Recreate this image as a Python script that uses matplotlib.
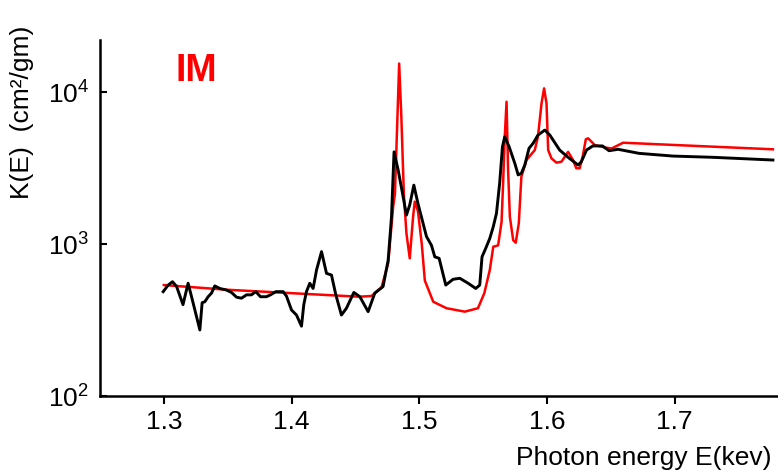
import matplotlib
matplotlib.use("Agg")
import matplotlib.pyplot as plt
from matplotlib import font_manager

# pick a narrow sans if available
names = {f.name for f in font_manager.fontManager.ttflist}
FONT = 'Liberation Sans Narrow' if 'Liberation Sans Narrow' in names else 'Liberation Sans'
plt.rcParams['font.family'] = [FONT, 'DejaVu Sans']
plt.rcParams['mathtext.fontset'] = 'custom'
plt.rcParams['mathtext.rm'] = FONT
plt.rcParams['mathtext.it'] = FONT
plt.rcParams['mathtext.default'] = 'regular'

# theory curve (red)
red_e = [1.300, 1.350, 1.400, 1.453, 1.4626, 1.4705, 1.4757, 1.4796, 1.481, 1.4843,
         1.486, 1.488, 1.490, 1.4926, 1.4952, 1.4965, 1.499, 1.502, 1.5044, 1.511,
         1.5214, 1.5357, 1.546, 1.551, 1.5553, 1.558, 1.5618, 1.5645, 1.5657, 1.567,
         1.5684, 1.5696, 1.571, 1.5736, 1.5756, 1.578, 1.580, 1.584, 1.5905, 1.593,
         1.5958, 1.5978, 1.5997, 1.601, 1.6036, 1.6075, 1.6114, 1.6166, 1.6205, 1.623,
         1.6257, 1.628, 1.6305, 1.6323, 1.6375, 1.6453, 1.6506, 1.6597, 1.777]
red_k = [537, 500, 475, 450, 455, 519, 747, 1763, 2140, 15400,
         6900, 2100, 1175, 805, 1510, 1900, 1650, 1000, 575, 417,
         378, 359, 378, 475, 676, 960, 980, 1400, 2500, 5080,
         8630, 3090, 1510, 1060, 1020, 1370, 2770, 3570, 4150, 5080,
         8420, 10570, 8420, 4150, 3660, 3430, 3480, 4040, 3570, 3150,
         3150, 3760, 4890, 4960, 4480, 4320, 4250, 4640, 4200]

# measured curve (black)
blk_e = [1.2995, 1.3034, 1.3068, 1.310, 1.315, 1.319, 1.3217, 1.3256, 1.3282, 1.330,
         1.3321, 1.3347, 1.3373, 1.3399, 1.3438, 1.349, 1.353, 1.3569, 1.3608, 1.3647,
         1.3686, 1.372, 1.3757, 1.3804, 1.3835, 1.3877, 1.3934, 1.396, 1.400, 1.4039,
         1.4078, 1.4096, 1.4117, 1.4143, 1.4169, 1.4196, 1.4235, 1.4274, 1.4313, 1.4347,
         1.4391, 1.443, 1.4488, 1.4535, 1.460, 1.4652, 1.4717, 1.4757, 1.4783, 1.4803,
         1.4835, 1.4869, 1.490, 1.4926, 1.4958, 1.499, 1.503, 1.5057, 1.5096, 1.5122,
         1.5156, 1.5208, 1.5265, 1.5318, 1.5383, 1.5443, 1.5474, 1.5492, 1.552, 1.5553,
         1.558, 1.5605, 1.563, 1.5652, 1.567, 1.5704, 1.5749, 1.5775, 1.580, 1.5827,
         1.586, 1.5892, 1.593, 1.5984, 1.6023, 1.610, 1.6166, 1.6244, 1.627, 1.631,
         1.636, 1.6435, 1.6487, 1.6557, 1.6722, 1.6988, 1.730, 1.777]
blk_k = [486, 537, 565, 525, 399, 552, 450, 333, 272, 411,
         417, 450, 475, 530, 510, 498, 480, 447, 440, 463,
         463, 486, 450, 450, 463, 486, 486, 455, 368, 341,
         288, 399, 486, 552, 510, 675, 891, 641, 625, 463,
         341, 378, 480, 450, 359, 475, 525, 785, 1510, 4040,
         3070, 2160, 1550, 1810, 2440, 1850, 1370, 1120, 980, 824,
         805, 537, 586, 595, 552, 510, 537, 824, 933, 1090,
         1300, 1590, 2510, 4370, 5080, 4370, 3390, 2850, 2920, 3310,
         4260, 4600, 5210, 5620, 5210, 4150, 3720, 3310, 3480, 4150,
         4420, 4420, 4110, 4200, 3950, 3790, 3720, 3570]

x_ticks = [1.3, 1.4, 1.5, 1.6, 1.7]
y_ticks = [1e2, 1e3, 1e4]

fig = plt.figure(figsize=(7.78, 4.76), dpi=100)
ax = fig.add_axes([100 / 778, 80 / 476, 678 / 778, 356 / 476])

ax.plot(red_e, red_k, color='#ff0000', lw=1.8, zorder=2)
ax.plot(blk_e, blk_k, color='black', lw=2.1, zorder=3)

ax.set_yscale('log')
ax.set_xlim(1.25, 1.781)
ax.set_ylim(100, 2.2e4)
ax.set_xticks(x_ticks)
ax.set_xticklabels(['1.3', '1.4', '1.5', '1.6', '1.7'])
ax.set_yticks(y_ticks)
ax.set_yticklabels([r'$10^2$', r'$10^3$', r'$10^4$'])
ax.minorticks_off()

for s in ['top', 'right']:
    ax.spines[s].set_visible(False)
for s in ['left', 'bottom']:
    ax.spines[s].set_linewidth(1.8)

ax.tick_params(axis='x', direction='out', length=6, width=1.5, pad=4, labelsize=19)
ax.tick_params(axis='y', direction='in', length=5, width=1.5, pad=8, labelsize=19)

fig.text(22 / 778, 1 - 112 / 476, 'K(E)  (cm²/gm)', rotation=90,
         ha='center', va='center', fontsize=19)
fig.text(771 / 778, 1 - 458 / 476, 'Photon energy E(kev)',
         ha='right', va='center', fontsize=19)
fig.text(175 / 778, 1 - 71 / 476, 'IM', color='#ff0000', fontsize=27,
         fontweight='bold', family='Liberation Sans', ha='left', va='center')

fig.savefig('out.png', dpi=100)
